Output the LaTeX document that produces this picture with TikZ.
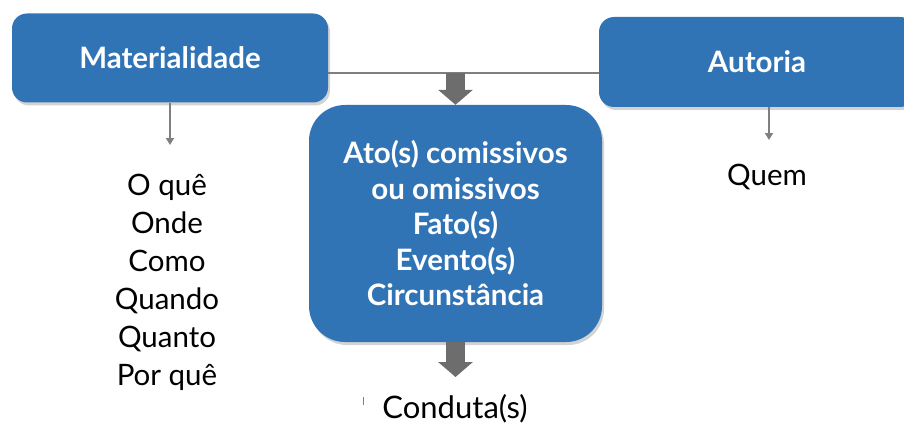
\documentclass[tikz,border=0pt]{standalone}
\usepackage{fontspec}
\setmainfont{Lato}
\usetikzlibrary{arrows.meta,shadows,calc}
\definecolor{boxblue}{HTML}{3174B6}
\definecolor{linegray}{HTML}{7F7F7F}
\definecolor{fatgray}{HTML}{6D6D6D}
\begin{document}
\begin{tikzpicture}[x=1pt,y=-1pt,
  bluebox/.style={fill=boxblue, draw=none, text=white, inner sep=0pt,
    font=\fontsize{29.5}{35.5}\selectfont\bfseries, align=center,
    drop shadow={opacity=0.35, shadow xshift=2pt, shadow yshift=-3pt}},
  listtext/.style={inner sep=0pt, align=center, text=black,
    font=\fontsize{29.5}{38}\selectfont},
  thinarrow/.style={draw=linegray, line width=1.8pt,
    -{Triangle[width=8pt,length=7pt]}},
  joinline/.style={draw=linegray, line width=2.5pt},
  fatarrow/.style={draw=fatgray, fill=fatgray, line width=19pt,
    -{Triangle[width=34pt,length=15pt]}}
]
\useasboundingbox (0,0) rectangle (904,425);

\node[bluebox, minimum width=316pt, minimum height=89pt, rounded corners=15pt]
  (mat) at (170,58) {Materialidade};
\node[bluebox, minimum width=316pt, minimum height=90pt, rounded corners=15pt]
  (aut) at (757,62) {Autoria};
\node[bluebox, minimum width=293pt, minimum height=237pt, rounded corners=36pt]
  (ctr) at (455.5,223.5) {Ato(s) comissivos\\ou omissivos\\Fato(s)\\Evento(s)\\Circunstância};

\node[listtext] (lst) at (167,282) {O quê\\Onde\\Como\\Quando\\Quanto\\Por quê};
\node[listtext] (quem) at (767,177) {Quem};
\node[listtext, font=\fontsize{31}{38}\selectfont] (cond) at (455,409) {Conduta(s)};

\coordinate (mtip) at (170,145);
\coordinate (atip) at (769,140);
\coordinate (join) at ([yshift=-15pt]mat.east -| ctr.north);
\coordinate (btip) at (455.5,377);
\coordinate (tickA) at (363,397);
\coordinate (tickB) at (363,405);

\draw[joinline] ([yshift=-15pt]mat.east) -- ([yshift=-11pt]aut.west);
\draw[fatarrow] (join) -- (ctr.north);
\draw[fatarrow] (ctr.south) -- (btip);
\draw[thinarrow] (mat.south) -- (mtip);
\draw[thinarrow] (aut.south -| atip) -- (atip);
\draw[draw=linegray, line width=1pt] (tickA) -- (tickB);
\end{tikzpicture}
\end{document}
